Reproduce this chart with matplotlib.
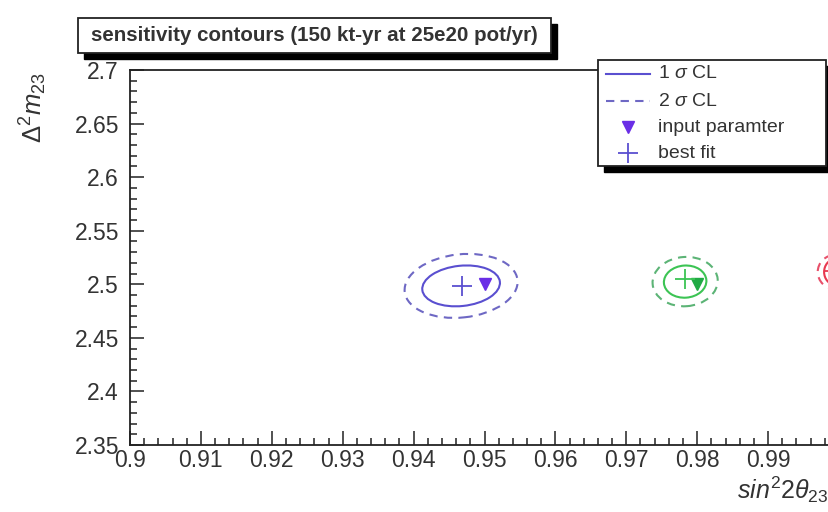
import matplotlib
matplotlib.use("Agg")
import matplotlib.pyplot as plt
from matplotlib.patches import Ellipse, Rectangle
from matplotlib.lines import Line2D
from matplotlib.ticker import MultipleLocator
from matplotlib.transforms import Affine2D

plt.rcParams["font.family"] = ["Liberation Sans", "DejaVu Sans"]
plt.rcParams["mathtext.fontset"] = "custom"
plt.rcParams["mathtext.rm"] = "Liberation Sans"
plt.rcParams["mathtext.it"] = "Liberation Sans:italic"
plt.rcParams["mathtext.bf"] = "Liberation Sans:bold"

# ---- data -------------------------------------------------------------
title = "sensitivity contours (150 kt-yr at 25e20 pot/yr)"
x_label = r"$sin^{2}2\theta_{23}$"
y_label = r"$\Delta^{2}m_{23}$"
legend_labels = [r"1 $\sigma$ CL", r"2 $\sigma$ CL", "input paramter", "best fit"]

x_range = (0.9, 1.0)
y_range = (2.35, 2.7)

# three scenarios: input point, fitted point and contour ellipses
colors_1sig = ["#5a4fd0", "#3cc454", "#e8384f"]
colors_2sig = ["#6e68c4", "#5cb476", "#e8506a"]
marker_colors = ["#6a2ee6", "#20aa44", "#e0203c"]
input_x = [0.950, 0.980, 1.000]
input_y = [2.500, 2.500, 2.500]
fit_x = [0.9468, 0.9783, 0.9993]
fit_y = [2.498, 2.5045, 2.512]
center_x = [0.9467, 0.9783, 0.9995]
center_y = [2.4985, 2.5025, 2.5115]
semi_x_1sig = [0.0055, 0.0030, 0.0016]
semi_y_1sig = [0.0188, 0.0150, 0.0120]
semi_x_2sig = [0.0080, 0.0046, 0.0025]
semi_y_2sig = [0.0295, 0.0230, 0.0160]
tilt_deg = [6.0, 4.0, 0.0]

# ---- figure -----------------------------------------------------------
W, H = 829, 512
fig = plt.figure(figsize=(W / 100, H / 100), dpi=100)
fig.patch.set_facecolor("white")

ax_left, ax_right, ax_top, ax_bottom = 130, 839, 70, 445
ax = fig.add_axes([ax_left / W, 1 - ax_bottom / H,
                   (ax_right - ax_left) / W, (ax_bottom - ax_top) / H])
ax.set_xlim(*x_range)
ax.set_ylim(*y_range)

for sp in ax.spines.values():
    sp.set_linewidth(1.3)
    sp.set_color("#222222")


def fmt_x(v, pos):
    if v > 0.995:
        return ""
    return f"{v:.2f}".rstrip("0")


ax.xaxis.set_major_locator(MultipleLocator(0.01))
ax.xaxis.set_minor_locator(MultipleLocator(0.002))
ax.yaxis.set_major_locator(MultipleLocator(0.05))
ax.yaxis.set_minor_locator(MultipleLocator(0.01))
ax.xaxis.set_major_formatter(plt.FuncFormatter(fmt_x))
ax.yaxis.set_major_formatter(plt.FuncFormatter(lambda v, p: f"{v:.2f}".rstrip("0")))
ax.tick_params(which="both", direction="in", top=False, right=False,
               color="#222222", width=1.1)
ax.tick_params(which="major", length=10, labelsize=16.5, labelcolor="#333333")
ax.tick_params(which="minor", length=5)
ax.tick_params(axis="x", which="major", pad=3)
ax.tick_params(axis="y", which="major", pad=8)

# pixel-per-unit scales so tilts are applied on screen
p0 = ax.transData.transform((0.0, 0.0))
p1 = ax.transData.transform((1.0, 1.0))
kx, ky = p1[0] - p0[0], p1[1] - p0[1]


def contour(cx, cy, sx, sy, ang, color, ls):
    tr = (Affine2D().scale(kx, ky).rotate_deg(ang).scale(1 / kx, 1 / ky)
          .translate(cx, cy) + ax.transData)
    e = Ellipse((0, 0), 2 * sx, 2 * sy, fill=False, edgecolor=color,
                linewidth=1.5, linestyle=ls, transform=tr)
    ax.add_patch(e)


for i in range(len(input_x)):
    contour(center_x[i], center_y[i], semi_x_1sig[i], semi_y_1sig[i],
            tilt_deg[i], colors_1sig[i], "-")
    contour(center_x[i], center_y[i], semi_x_2sig[i], semi_y_2sig[i],
            tilt_deg[i], colors_2sig[i], (0, (4, 3)))
    ax.plot(input_x[i], input_y[i], marker="v", ms=8, color=marker_colors[i],
            linestyle="none")
    ax.plot(fit_x[i], fit_y[i], marker="+", ms=14, mew=1.3,
            color=colors_1sig[i], linestyle="none")

# axis titles
fig.text(737 / W, 1 - 490 / H, x_label, ha="left", va="center",
         fontsize=18, color="#333333")
fig.text(33 / W, 1 - 72 / H, y_label, ha="center", va="top", rotation=90,
         fontsize=18.5, color="#333333")

# title box with drop shadow
tb = (78, 18, 551, 53)
sh = 6
fig.patches.append(Rectangle((((tb[0] + sh) / W), 1 - (tb[3] + sh) / H),
                             (tb[2] - tb[0]) / W, (tb[3] - tb[1]) / H,
                             transform=fig.transFigure, facecolor="black",
                             edgecolor="black", zorder=1))
fig.patches.append(Rectangle((tb[0] / W, 1 - tb[3] / H),
                             (tb[2] - tb[0]) / W, (tb[3] - tb[1]) / H,
                             transform=fig.transFigure, facecolor="white",
                             edgecolor="#222222", linewidth=1.3, zorder=2))
fig.text((tb[0] + tb[2]) / 2 / W, 1 - (tb[1] + tb[3]) / 2 / H, title,
         ha="center", va="center", fontsize=14.8, fontweight="bold",
         color="#333333", zorder=3)

# legend box with drop shadow
lb = (598, 60, 826, 166)
fig.patches.append(Rectangle(((lb[0] + sh) / W, 1 - (lb[3] + sh) / H),
                             (lb[2] - lb[0]) / W, (lb[3] - lb[1]) / H,
                             transform=fig.transFigure, facecolor="black",
                             edgecolor="black", zorder=4))
fig.patches.append(Rectangle((lb[0] / W, 1 - lb[3] / H),
                             (lb[2] - lb[0]) / W, (lb[3] - lb[1]) / H,
                             transform=fig.transFigure, facecolor="white",
                             edgecolor="#222222", linewidth=1.3, zorder=5))
row_y = [74, 101, 127, 153]
x0, x1, xm = 606, 650, 628
fig.lines.append(Line2D([x0 / W, x1 / W], [1 - row_y[0] / H] * 2,
                        transform=fig.transFigure, color=colors_1sig[0],
                        lw=1.5, zorder=6))
fig.lines.append(Line2D([x0 / W, x1 / W], [1 - row_y[1] / H] * 2,
                        transform=fig.transFigure, color=colors_2sig[0],
                        lw=1.5, ls=(0, (4, 3)), zorder=6))
fig.lines.append(Line2D([xm / W], [1 - row_y[2] / H], marker="v", ms=8,
                        color=marker_colors[0], transform=fig.transFigure,
                        zorder=6))
fig.lines.append(Line2D([xm / W], [1 - row_y[3] / H], marker="+", ms=14,
                        mew=1.3, color=colors_1sig[0],
                        transform=fig.transFigure, zorder=6))
for lab, yy in zip(legend_labels, row_y):
    fig.text(658 / W, 1 - yy / H, lab, ha="left", va="center", fontsize=14,
             color="#333333", zorder=7)

fig.savefig("out.png", dpi=100, facecolor="white")
